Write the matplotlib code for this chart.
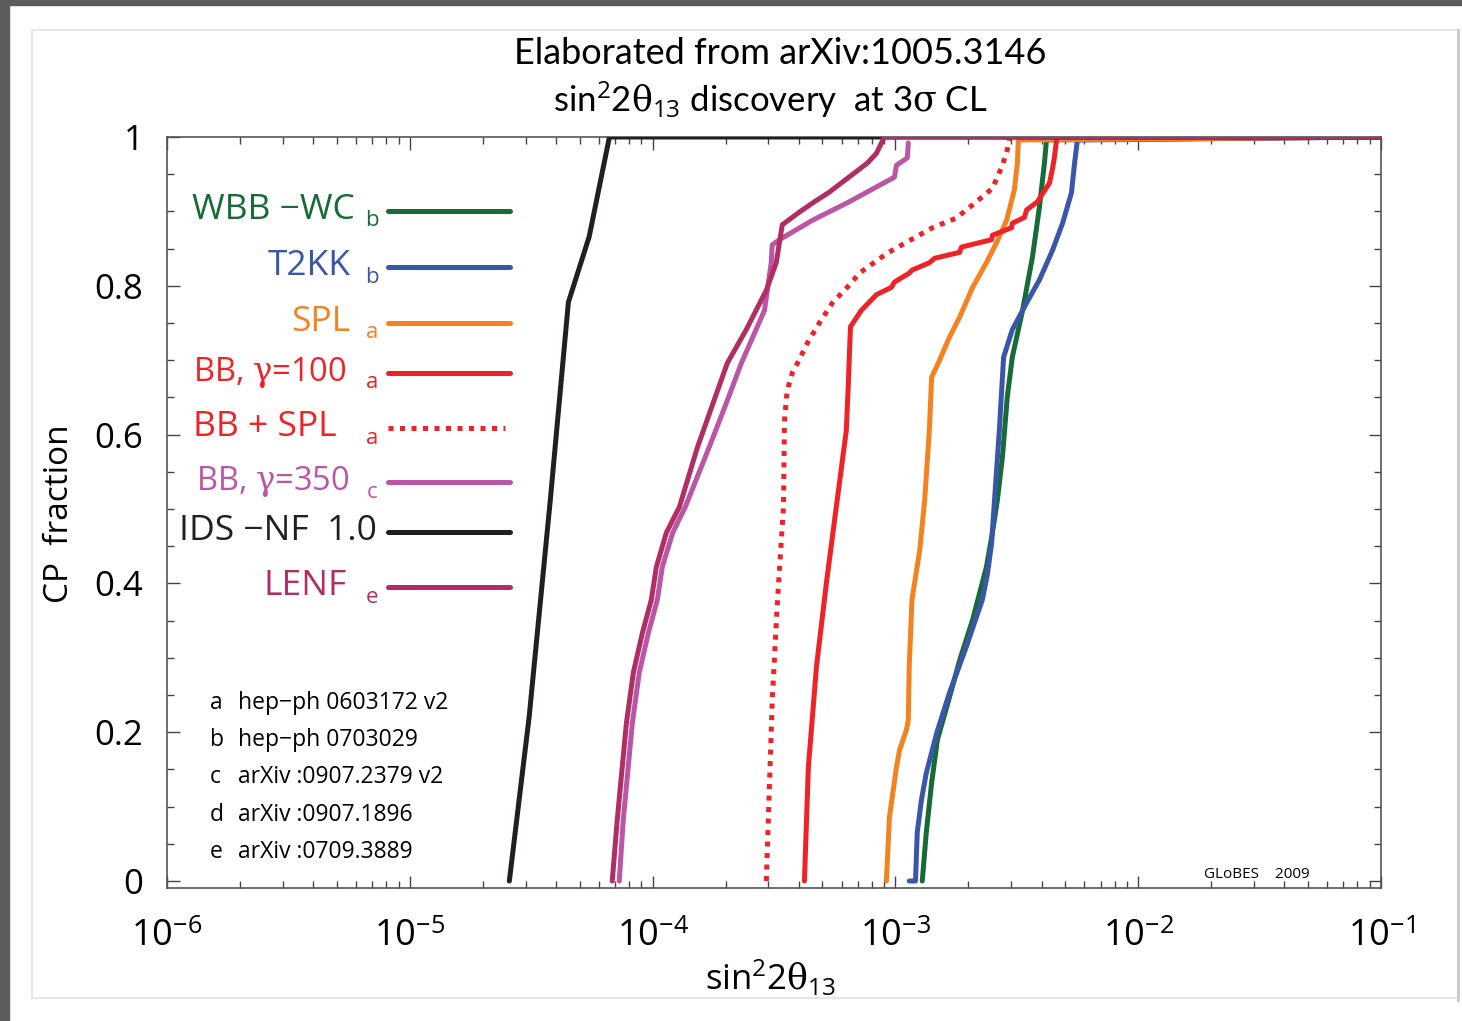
import math
import matplotlib
matplotlib.use('Agg')
import matplotlib.pyplot as plt
from matplotlib.patches import Rectangle
from matplotlib.lines import Line2D
from matplotlib.ticker import LogLocator, MultipleLocator, NullFormatter

plt.rcParams['font.family'] = ['Open Sans', 'DejaVu Sans']
plt.rcParams['mathtext.fontset'] = 'custom'
plt.rcParams['mathtext.rm'] = 'Open Sans'
plt.rcParams['mathtext.it'] = 'DejaVu Serif'
plt.rcParams['mathtext.bf'] = 'Open Sans:bold'

# ---------------- data (sin^2 2theta13 , CP fraction) ----------------
wbb_x = [1.29e-3, 1.34e-3, 1.41e-3, 1.49e-3, 1.67e-3, 1.84e-3, 2.08e-3, 2.37e-3, 2.51e-3, 2.63e-3,
         2.76e-3, 2.89e-3, 3.03e-3, 3.34e-3, 3.67e-3, 3.92e-3, 4.11e-3, 4.19e-3, 0.1]
wbb_y = [0.0, 0.065, 0.132, 0.190, 0.247, 0.297, 0.351, 0.422, 0.468, 0.512,
         0.570, 0.651, 0.704, 0.767, 0.839, 0.906, 0.965, 0.996, 1.0]

t2kk_x = [1.14e-3, 1.21e-3, 1.23e-3, 1.28e-3, 1.34e-3, 1.48e-3, 1.67e-3, 1.96e-3, 2.28e-3, 2.39e-3,
          2.49e-3, 2.56e-3, 2.68e-3, 2.79e-3, 3.03e-3, 3.47e-3, 3.92e-3, 4.44e-3, 4.88e-3, 5.31e-3,
          5.47e-3, 5.62e-3, 0.1]
t2kk_y = [0.0, 0.0, 0.065, 0.109, 0.145, 0.199, 0.253, 0.315, 0.378, 0.411,
          0.454, 0.512, 0.606, 0.704, 0.741, 0.777, 0.808, 0.848, 0.884, 0.925,
          0.965, 0.996, 1.0]

spl_x = [9.18e-4, 9.45e-4, 1.01e-3, 1.04e-3, 1.11e-3, 1.13e-3, 1.14e-3, 1.17e-3, 1.26e-3, 1.32e-3,
         1.38e-3, 1.41e-3, 1.52e-3, 1.67e-3, 1.84e-3, 2.08e-3, 2.37e-3, 2.61e-3, 2.87e-3, 3.09e-3,
         3.18e-3, 3.21e-3, 0.1]
spl_y = [0.0, 0.086, 0.153, 0.176, 0.203, 0.216, 0.288, 0.378, 0.445, 0.512,
         0.606, 0.677, 0.700, 0.731, 0.758, 0.798, 0.831, 0.858, 0.888, 0.929,
         0.965, 0.996, 1.0]

bb100_x = [4.22e-4, 4.38e-4, 4.73e-4, 5.20e-4, 5.71e-4, 6.28e-4, 6.40e-4, 6.53e-4, 7.24e-4, 8.35e-4,
           9.63e-4, 9.91e-4, 1.14e-3, 1.17e-3, 1.38e-3, 1.45e-3, 1.84e-3, 1.87e-3, 2.49e-3, 2.51e-3,
           3.01e-3, 3.03e-3, 3.40e-3, 3.47e-3, 3.85e-3, 4.00e-3, 4.31e-3, 4.44e-3, 4.52e-3, 4.61e-3,
           4.65e-3, 0.1]
bb100_y = [0.0, 0.153, 0.288, 0.401, 0.503, 0.606, 0.669, 0.745, 0.767, 0.788,
           0.798, 0.805, 0.817, 0.821, 0.831, 0.837, 0.845, 0.852, 0.862, 0.868,
           0.878, 0.884, 0.892, 0.902, 0.913, 0.922, 0.938, 0.958, 0.973, 0.996,
           1.0, 1.0]

bbspl_x = [2.94e-4, 3.11e-4, 3.27e-4, 3.46e-4, 3.49e-4, 3.56e-4, 3.62e-4, 3.76e-4, 3.95e-4, 4.34e-4,
           4.86e-4, 5.50e-4, 6.46e-4, 7.11e-4, 9.27e-4, 1.16e-3, 1.42e-3, 1.78e-3, 2.12e-3, 2.51e-3,
           2.76e-3, 2.89e-3, 2.95e-3, 0.1]
bbspl_y = [0.0, 0.243, 0.378, 0.503, 0.616, 0.651, 0.664, 0.683, 0.696, 0.723,
           0.750, 0.777, 0.801, 0.817, 0.844, 0.862, 0.878, 0.891, 0.911, 0.931,
           0.962, 0.983, 1.0, 1.0]

bb350_x = [7.29e-5, 7.57e-5, 8.25e-5, 8.81e-5, 9.60e-5, 1.046e-4, 1.096e-4, 1.21e-4, 1.364e-4, 1.71e-4,
           2.01e-4, 2.32e-4, 2.89e-4, 3.08e-4, 3.11e-4, 3.33e-4, 4.55e-4, 6.46e-4, 8.59e-4, 9.91e-4,
           1.01e-3, 1.12e-3, 1.13e-3]
bb350_y = [0.0, 0.082, 0.212, 0.280, 0.333, 0.378, 0.422, 0.468, 0.503, 0.583,
           0.642, 0.696, 0.767, 0.831, 0.855, 0.862, 0.888, 0.913, 0.935, 0.946,
           0.962, 0.972, 0.992]

ids_x = [2.57e-5, 2.82e-5, 3.10e-5, 3.79e-5, 4.50e-5, 5.48e-5, 6.64e-5, 0.1]
ids_y = [0.0, 0.109, 0.220, 0.512, 0.778, 0.866, 1.0, 1.0]

lenf_x = [6.82e-5, 7.15e-5, 7.80e-5, 8.33e-5, 9.07e-5, 9.88e-5, 1.036e-4, 1.139e-4, 1.29e-4, 1.53e-4,
          2.03e-4, 2.43e-4, 2.94e-4, 3.23e-4, 3.42e-4, 4.02e-4, 4.64e-4, 5.35e-4, 7.67e-4, 8.35e-4,
          9.01e-4, 0.1]
lenf_y = [0.0, 0.082, 0.212, 0.280, 0.333, 0.378, 0.422, 0.468, 0.503, 0.583,
          0.696, 0.741, 0.794, 0.831, 0.882, 0.899, 0.913, 0.926, 0.965, 0.978,
          1.0, 1.0]

labels = ['WBB \u2212WC', 'T2KK', 'SPL', r'BB, $\gamma$=100', 'BB + SPL', r'BB, $\gamma$=350',
          'IDS \u2212NF  1.0', 'LENF']
subs = ['b', 'b', 'a', 'a', 'a', 'c', '', 'e']
colors = ['#176b37', '#3a56a8', '#f58220', '#ee2227', '#ee2227', '#bb55a5', '#231f20', '#b02e63']

refs_letters = ['a', 'b', 'c', 'd', 'e']
refs_texts = ['hep\u2212ph 0603172 v2', 'hep\u2212ph 0703029', 'arXiv :0907.2379 v2',
              'arXiv :0907.1896', 'arXiv :0709.3889']

xticks_vals = [1e-6, 1e-5, 1e-4, 1e-3, 1e-2, 1e-1]
yticks_vals = [0, 0.2, 0.4, 0.6, 0.8, 1.0]
ytick_labels = ['0', '0.2', '0.4', '0.6', '0.8', '1']

# ---------------- figure ----------------
W, H = 1462, 1021
fig = plt.figure(figsize=(W / 100, H / 100), dpi=100, facecolor='white')


def fx(px):
    return px / W


def fy(py):
    return 1 - py / H


# background frame
fig.patches.append(Rectangle((0, 0), fx(9), 1, transform=fig.transFigure, color='#5c5c5c', zorder=0))
fig.patches.append(Rectangle((0, fy(5)), 1, 1 - fy(5), transform=fig.transFigure, color='#5c5c5c', zorder=0))
fig.patches.append(Rectangle((fx(32), fy(998)), fx(1458) - fx(32), fy(30) - fy(998),
                             transform=fig.transFigure, fill=False, edgecolor='#e3e3e3', lw=1.2, zorder=0))
fig.lines.append(Line2D([fx(1458), fx(1458)], [fy(30), fy(1000)], transform=fig.transFigure,
                        color='#c8c8c8', lw=2))

ax = fig.add_axes([fx(167), fy(888), fx(1381) - fx(167), fy(137) - fy(888)])
ax.set_xscale('log')
ax.set_xlim(1e-6, 1e-1)
ax.set_ylim(-0.0094, 1.0)

lw = 3.6
series = [(wbb_x, wbb_y), (t2kk_x, t2kk_y), (spl_x, spl_y), (bb100_x, bb100_y),
          (bbspl_x, bbspl_y), (bb350_x, bb350_y), (ids_x, ids_y), (lenf_x, lenf_y)]
for i, (xs, ys) in enumerate(series):
    if i == 4:
        ax.plot(xs, ys, color=colors[i], lw=lw, linestyle=(0, (1, 1.3)), dash_capstyle='butt', zorder=3)
    else:
        ax.plot(xs, ys, color=colors[i], lw=lw, solid_capstyle='round', solid_joinstyle='round', zorder=3)

for s in ax.spines.values():
    s.set_color('#555555')
    s.set_linewidth(1.2)

ax.xaxis.set_minor_locator(LogLocator(base=10, subs=range(2, 10), numticks=20))
ax.xaxis.set_minor_formatter(NullFormatter())
ax.set_xticks(xticks_vals)
ax.set_xticklabels([r'$10^{%d}$' % round(math.log10(v)) for v in xticks_vals])
ax.set_yticks(yticks_vals)
ax.set_yticklabels(ytick_labels)
ax.yaxis.set_minor_locator(MultipleLocator(0.05))
ax.tick_params(which='both', direction='in', top=True, right=True, color='#444444', width=1)
ax.tick_params(which='major', length=9)
ax.tick_params(which='minor', length=5)
ax.tick_params(axis='x', which='major', labelsize=26, pad=22)
ax.tick_params(axis='y', which='major', labelsize=25, pad=17)

# axis labels
fig.text(fx(60), fy(514), 'CP  fraction', rotation=90, ha='center', va='center', fontsize=24)
fig.text(fx(770), fy(978), r'sin$^2$2$\theta_{13}$', ha='center', va='center', fontsize=25)

# title
fig.text(fx(780), fy(54), 'Elaborated from arXiv:1005.3146', ha='center', va='center', fontsize=26,
         family=['Lato', 'DejaVu Sans'])
fig.text(fx(770), fy(100), r'sin$^2$2$\theta_{13}$ discovery  at 3$\sigma$ CL', ha='center', va='center',
         fontsize=25, family=['Lato', 'DejaVu Sans'])

# legend
leg_y = [211, 267, 323, 373, 428, 482, 532, 587]
leg_right = [355, 351, 350, 347, 337, 350, 377, 347]
leg_size = [25.5, 25.5, 25.5, 23.5, 25.5, 23.5, 25.5, 25.5]
for i in range(len(labels)):
    fig.text(fx(leg_right[i]), fy(leg_y[i] - 1), labels[i], ha='right', va='center', fontsize=leg_size[i],
             color=colors[i])
    if subs[i]:
        fig.text(fx(372), fy(leg_y[i] + 10), subs[i], ha='center', va='center', fontsize=16, color=colors[i])
    x1 = 505 if i == 4 else 510
    ls = (0, (1, 1.3)) if i == 4 else '-'
    fig.lines.append(Line2D([fx(388), fx(x1)], [fy(leg_y[i]), fy(leg_y[i])], transform=fig.transFigure,
                            color=colors[i], lw=lw, linestyle=ls,
                            solid_capstyle='round', dash_capstyle='butt'))

# references
ref_y = [703, 740, 777, 815, 852]
for i in range(len(refs_letters)):
    fig.text(fx(210), fy(ref_y[i]), refs_letters[i], ha='left', va='center', fontsize=16.5)
    fig.text(fx(238), fy(ref_y[i]), refs_texts[i], ha='left', va='center', fontsize=16.5)

fig.text(fx(1204), fy(874), 'GLoBES    2009', ha='left', va='center', fontsize=11)

fig.savefig('out.png', dpi=100, facecolor='white')
